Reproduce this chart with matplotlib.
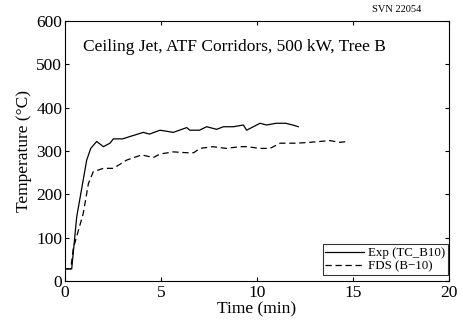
import matplotlib
matplotlib.use('Agg')
import matplotlib.pyplot as plt

plt.rcParams['font.family'] = ['Liberation Serif', 'DejaVu Serif']
plt.rcParams['mathtext.fontset'] = 'stix'

# Experimental (TC_B10)
exp_t = [0.0, 0.35, 0.61, 1.13, 1.34, 1.65, 2.0, 2.34, 2.52, 3.0, 3.5, 4.08, 4.4,
         4.95, 5.64, 6.34, 6.5, 7.0, 7.38, 7.9, 8.25, 8.77, 9.29, 9.46, 10.16,
         10.5, 11.0, 11.5, 11.86, 12.15]
exp_T = [28, 28, 148, 279, 306, 322, 310, 318, 328, 328, 335, 343, 339,
         348, 343, 354, 348, 348, 356, 350, 356, 356, 360, 348, 364,
         360, 364, 364, 360, 356]

# FDS (B-10)
fds_t = [0.0, 0.3, 0.43, 0.95, 1.22, 1.47, 1.99, 2.52, 3.21, 3.99, 4.6, 4.95,
         5.64, 6.34, 6.7, 7.03, 7.7, 8.4, 9.1, 9.46, 10.16, 10.68, 11.2,
         12.06, 12.76, 13.8, 14.3, 14.76]
fds_T = [28, 28, 75, 156, 225, 252, 260, 260, 279, 291, 285, 293,
         298, 296, 296, 306, 310, 306, 310, 310, 306, 306, 318,
         318, 320, 324, 320, 322]

fig = plt.figure(figsize=(4.64, 3.24), dpi=100)
ax = fig.add_axes([65 / 464, 1 - 281 / 324, 384 / 464, 260 / 324])

ax.plot(exp_t, exp_T, 'k-', lw=0.9, label='Exp (TC_B10)')
ax.plot(fds_t, fds_T, 'k--', lw=0.9, dashes=(5, 3), label='FDS (B\u221210)')

ax.set_xlim(0, 20)
ax.set_ylim(0, 600)
ax.set_xticks([0, 5, 10, 15, 20])
ax.set_yticks([0, 100, 200, 300, 400, 500, 600])
ax.tick_params(direction='in', top=True, right=True, labelsize=12.5, length=3)
ax.tick_params(axis='x', pad=3)
ax.tick_params(axis='y', pad=2)
ax.set_xlabel('Time (min)', fontsize=12.5, labelpad=0)
ax.set_ylabel('Temperature (\u00b0C)', fontsize=12.5, labelpad=3)

ax.text(0.047, 0.9, 'Ceiling Jet, ATF Corridors, 500 kW, Tree B',
        transform=ax.transAxes, fontsize=12.5, va='center')
fig.text(397 / 464, 1 - 9 / 324, 'SVN 22054', fontsize=7.5, ha='center', va='center')

leg = ax.legend(loc='lower right', bbox_to_anchor=(0.997, 0.023), fontsize=9.3,
                frameon=True, fancybox=False, borderaxespad=0, handlelength=3,
                borderpad=0.2, labelspacing=0.1, handletextpad=0.3)
leg.get_frame().set_edgecolor('black')
leg.get_frame().set_linewidth(0.8)

fig.savefig('out.png', dpi=100)
